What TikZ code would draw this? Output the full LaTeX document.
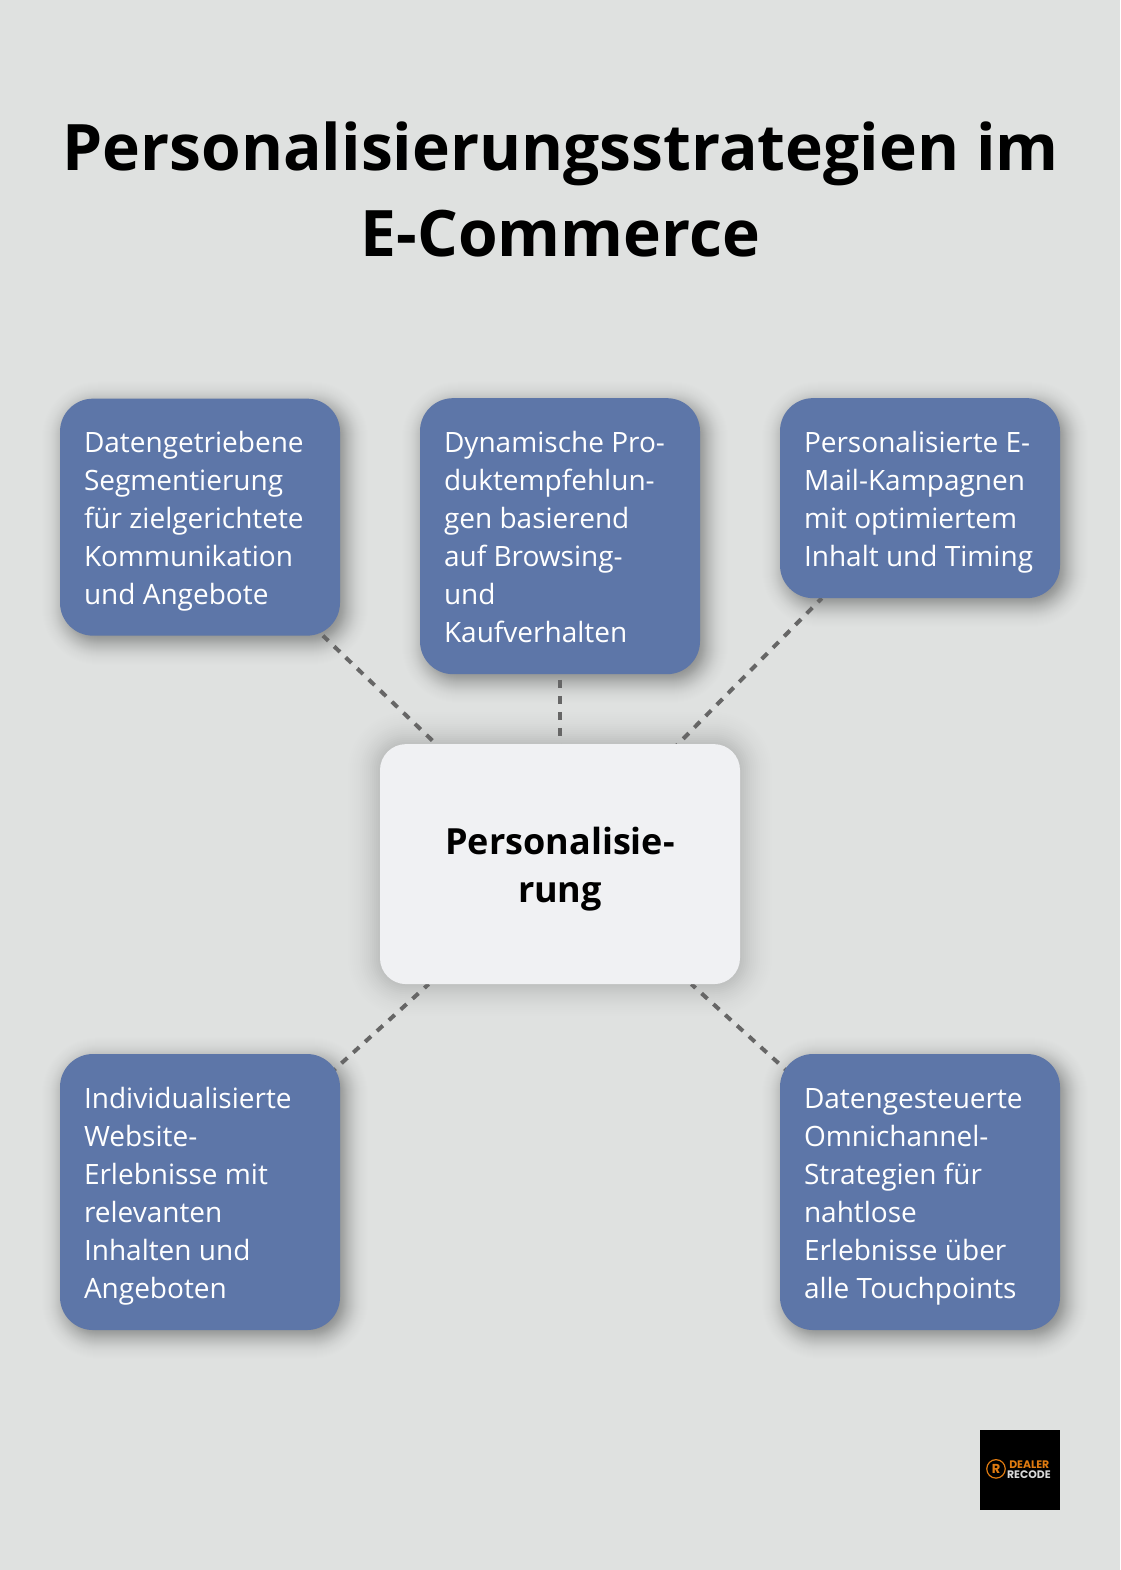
\documentclass[tikz,border=0pt]{standalone}
\usepackage{fontspec}
\setmainfont{Open Sans}
\newfontfamily\boxfont{Open Sans}
\newfontfamily\logofont{Poppins}
\usetikzlibrary{backgrounds}
\definecolor{bgc}{HTML}{DFE1E0}
\definecolor{bluec}{HTML}{5D76A8}
\definecolor{centerc}{HTML}{F0F1F3}
\definecolor{linec}{HTML}{666666}
\definecolor{logoor}{HTML}{E07B10}
\definecolor{logogr}{HTML}{D8D8D8}
\newcommand{\st}{\spaceskip 7.3pt\relax\rule[-8.2pt]{0pt}{39pt}}
\newcommand{\sn}{\rule[-7.2pt]{0pt}{38pt}}
% x0 y0 x1 y1 radius halfwidth step total-alpha
\newcommand{\softshadow}[8]{%
  \pgfmathsetmacro{\nn}{int(2*#6/#7)}%
  \foreach \j in {0,...,\nn}{%
    \pgfmathsetmacro{\i}{#7*\j-#6}%
    \pgfmathsetmacro{\rr}{max(#5+\i,1)}%
    \pgfmathsetmacro{\aa}{#8*#7*exp(-2*(\i/#6)*(\i/#6))/(#6*1.2533)}%
    \fill[black,fill opacity=\aa,rounded corners=\rr pt]
      ({#1-\i},{#2-\i}) rectangle ({#3+\i},{#4+\i});}}
\tikzset{
  bluebox/.style={fill=bluec,text=white,rounded corners=33pt,minimum width=280pt,
    text width=232pt,inner xsep=24pt,inner ysep=0pt,outer sep=0pt,align=left,
    font=\boxfont\fontsize{28}{38}\selectfont},
  centerbox/.style={fill=centerc,text=black,rounded corners=26pt,minimum width=360pt,minimum height=240pt,
    inner sep=0pt,outer sep=0pt,align=center,font=\fontsize{36}{48}\selectfont\bfseries},
  titlenode/.style={text=black,align=center,inner sep=0pt,font=\fontsize{64.1}{86}\selectfont\bfseries},
  link/.style={draw=linec,line width=4pt,dash pattern=on 8pt off 8pt},
  logobox/.style={fill=black,minimum size=80pt,inner sep=0pt,outer sep=0pt},
  logotext/.style={inner sep=0pt,anchor=base east,font=\logofont\fontsize{10.9}{10.9}\selectfont\bfseries},
}
\begin{document}
\begin{tikzpicture}[x=1pt,y=-1.00128pt]
\useasboundingbox (0,0) rectangle (1120,1568);
% title
\node[titlenode] (title) at (560.5,189) {Personalisierungsstrategien im\\E-Commerce};
% boxes
\node[bluebox,minimum height=237pt] (tl) at (200,516.5) {\st Datengetriebene\\Segmentierung\\für zielgerichtete\\Kommunikation\\und Angebote\sn};
\node[bluebox,minimum height=276pt] (tc) at (560,535.5) {\st Dynamische Pro-\\duktempfehlun-\\gen basierend\\auf Browsing-\\und\\Kaufverhalten\sn};
\node[bluebox,minimum height=200pt] (tr) at (920,497.5) {\st Personalisierte E-\\Mail-Kampagnen\\mit optimiertem\\\mbox{Inhalt und Timing}\sn};
\node[bluebox,minimum height=276pt] (bl) at (200,1190.5) {\st Individualisierte\\Website-\\Erlebnisse mit\\relevanten\\Inhalten und\\Angeboten\sn};
\node[bluebox,minimum height=276pt] (br) at (920,1190.5) {\st Datengesteuerte\\Omnichannel-\\Strategien für\\nahtlose\\Erlebnisse über\\alle Touchpoints\sn};
\node[centerbox] (cn) at (560,863) {\rule{0pt}{38pt}Personalisie-\\rung};
% logo
\node[logobox] (logo) at (1020,1468) {};
\node[draw=logoor,line width=1.2pt,circle,minimum size=18.5pt,inner sep=0pt,text=logoor,
  font=\logofont\fontsize{13}{13}\selectfont\bfseries] (logoR) at (996,1467) {R};
\node[logotext,text=logoor] (logoA) at (1049.5,1466.6) {DEALER};
\node[logotext,text=logogr] (logoB) at (1051,1476.1) {RECODE};
\begin{pgfonlayer}{background}
\fill[bgc] (0,0) rectangle (1120,1568);
% shadows
\softshadow{65}{404}{345}{641}{33}{24}{1}{0.42}
\softshadow{425}{404}{705}{679}{33}{24}{1}{0.42}
\softshadow{785}{404}{1065}{603}{33}{24}{1}{0.42}
\softshadow{65}{1059}{345}{1334}{33}{24}{1}{0.42}
\softshadow{785}{1059}{1065}{1334}{33}{24}{1}{0.42}
\softshadow{380}{743}{740}{983}{26}{34}{2}{0.26}
% connectors
\draw[link,dash phase=0.5pt] (tl) -- (cn);
\draw[link,dash phase=10.2pt] (tc) -- (cn);
\draw[link,dash phase=2.5pt,shorten >=-3pt] (tr) -- (cn);
\draw[link,dash phase=2.2pt,shorten >=-30pt] (cn) -- (bl);
\draw[link,dash phase=2.2pt,shorten >=-30pt] (cn) -- (br);
\end{pgfonlayer}
\end{tikzpicture}
\end{document}
